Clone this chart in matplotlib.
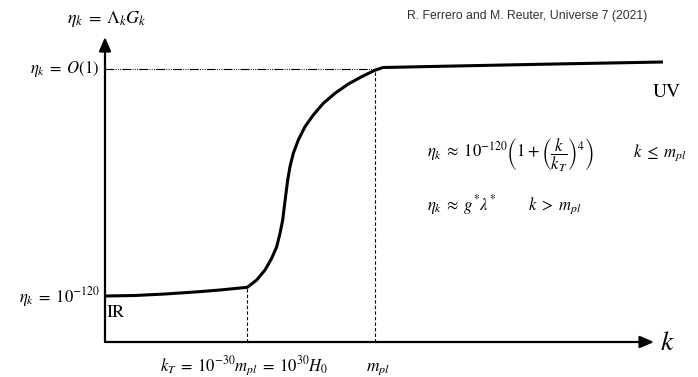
import matplotlib
matplotlib.use("Agg")
import matplotlib.pyplot as plt

plt.rcParams["mathtext.fontset"] = "stix"
plt.rcParams["font.family"] = ["STIXGeneral", "DejaVu Serif"]

# Running coupling eta_k across scales (schematic units, origin at the axes corner)
k_vals = [0.00, 0.30, 0.60, 0.90, 1.15, 1.423,
          1.517, 1.60, 1.667, 1.717, 1.75, 1.777, 1.793, 1.81, 1.827,
          1.85, 1.883, 1.933, 2.00, 2.083, 2.183, 2.30, 2.433, 2.567,
          2.70, 2.78, 3.50, 4.50, 5.58]
eta_vals = [0.46, 0.465, 0.48, 0.50, 0.52, 0.547,
            0.62, 0.72, 0.837, 0.953, 1.087, 1.22, 1.353, 1.487, 1.62,
            1.753, 1.887, 2.02, 2.153, 2.27, 2.387, 2.487, 2.58, 2.653,
            2.718, 2.745, 2.76, 2.78, 2.80]

k_T = 1.423         # transition scale
eta_T = 0.547
m_pl = 2.70         # Planck mass
eta_uv = 2.727      # O(1) plateau

fig = plt.figure(figsize=(6.98, 3.77), dpi=100)
ax = fig.add_axes([0, 0, 1, 1])
ax.set_xlim(-1.05, 5.93)
ax.set_ylim(-0.35, 3.42)
ax.axis("off")

# axes with arrow heads
arrow = dict(arrowstyle="-|>,head_length=0.7,head_width=0.3", lw=1.6,
             color="black", shrinkA=0, shrinkB=0, mutation_scale=12)
ax.annotate("", xy=(0, 3.05), xytext=(0, 0), arrowprops=arrow)
ax.annotate("", xy=(5.49, 0), xytext=(0, 0), arrowprops=arrow)

# guide lines
ax.plot([0, m_pl], [eta_uv, eta_uv], color="black", lw=0.8,
        dashes=[8, 1.2, 0.8, 1.2, 0.8, 1.2, 0.8, 1.2])
ax.plot([k_T, k_T], [0, eta_T], color="black", lw=0.8, dashes=[3, 2])
ax.plot([m_pl, m_pl], [0, eta_uv], color="black", lw=0.8, dashes=[3, 2])

# the curve
ax.plot(k_vals, eta_vals, color="black", lw=2.2, solid_capstyle="butt",
        solid_joinstyle="round")

# labels
ax.text(0.02, 3.23, r"$\eta_k \;=\; \Lambda_k G_k$", fontsize=13, ha="center", va="center")
ax.text(-0.06, eta_uv, r"$\eta_k \;=\; O(1)$", fontsize=12, ha="right", va="center")
ax.text(-0.05, 0.40, r"$\eta_k \;=\; 10^{-120}$", fontsize=12, ha="right", va="baseline")
ax.text(0.02, 0.25, "IR", fontsize=13, ha="left", va="baseline")
ax.text(5.48, 2.45, "UV", fontsize=14, ha="left", va="baseline")
ax.text(5.62, -0.01, r"$k$", fontsize=20, ha="center", va="center")
ax.text(1.39, -0.29, r"$k_T \;=\; 10^{-30} m_{pl} \;=\; 10^{30} H_0$", fontsize=12,
        ha="center", va="baseline")
ax.text(2.73, -0.29, r"$m_{pl}$", fontsize=12.5, ha="center", va="baseline")

ax.text(3.22, 1.85,
        r"$\eta_k \;\approx\; 10^{-120}\left(1 + \left(\dfrac{k}{k_T}\right)^4\right)$",
        fontsize=12, ha="left", va="baseline")
ax.text(5.28, 1.85, r"$k \;\leq\; m_{pl}$", fontsize=12, ha="left", va="baseline")
ax.text(3.22, 1.32, r"$\eta_k \;\approx\; g^{*} \lambda^{*}$", fontsize=12,
        ha="left", va="baseline")
ax.text(4.23, 1.32, r"$k \;>\; m_{pl}$", fontsize=12, ha="left", va="baseline")

ax.text(4.22, 3.26, "R. Ferrero and M. Reuter, Universe 7 (2021)", fontsize=8.8,
        family="Liberation Sans", color="#333333", ha="center", va="center")

fig.savefig("out.png", dpi=100)
